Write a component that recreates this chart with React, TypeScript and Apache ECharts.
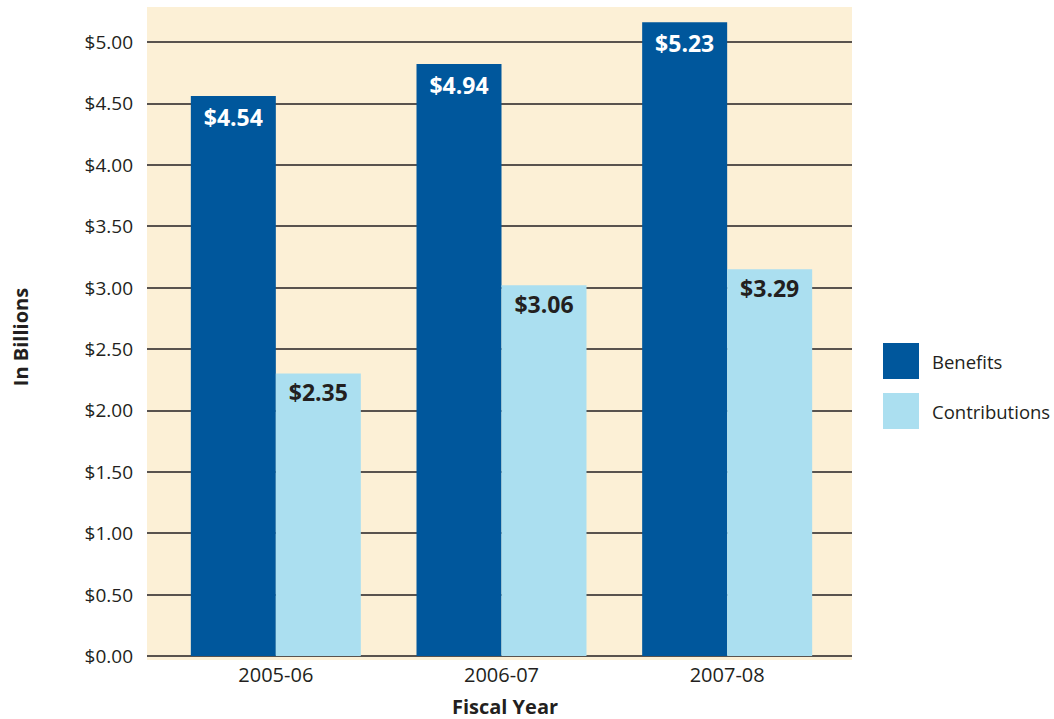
import React, { useEffect, useRef } from "react";
import * as echarts from "echarts";

const categories = ["2005-06", "2006-07", "2007-08"];
const benefits = [4.56, 4.82, 5.16];
const contributions = [2.3, 3.02, 3.15];
const benefitLabels = ["$4.54", "$4.94", "$5.23"];
const contributionLabels = ["$2.35", "$3.06", "$3.29"];
const seriesNames = ["Benefits", "Contributions"];
const yAxisTitle = "In Billions";
const xAxisTitle = "Fiscal Year";

const FONT = "'Open Sans', 'Noto Sans', sans-serif";
const DARK = "#231f20";
const BLUE = "#00579c";
const LIGHT = "#abdff0";

export default function App() {
  const ref = useRef<HTMLDivElement>(null);
  useEffect(() => {
    if (!ref.current) return;
    const chart = echarts.init(ref.current, undefined, { renderer: "svg" });
    chart.setOption({
      animation: false,
      textStyle: { fontFamily: FONT },
      graphic: [
        {
          type: "rect",
          z: -10,
          shape: { x: 147, y: 7, width: 705, height: 653 },
          style: { fill: "#fcf0d6" },
        },
        {
          type: "text",
          x: 20,
          y: 337,
          rotation: Math.PI / 2,
          style: {
            text: yAxisTitle,
            fontSize: 20,
            fontWeight: "bold",
            fill: DARK,
            fontFamily: FONT,
            align: "center",
            verticalAlign: "middle",
          },
        },
        {
          type: "text",
          x: 505,
          y: 706,
          style: {
            text: xAxisTitle,
            fontSize: 20,
            fontWeight: "bold",
            fill: DARK,
            fontFamily: FONT,
            align: "center",
            verticalAlign: "middle",
          },
        },
      ],
      legend: {
        orient: "vertical",
        left: 878,
        top: 338,
        itemWidth: 36,
        itemHeight: 36,
        itemGap: 14,
        icon: "rect",
        data: seriesNames,
        textStyle: { fontSize: 18.5, color: DARK, fontFamily: FONT, padding: [0, 0, 0, 8] },
      },
      grid: [
        { left: 147, right: 202, top: 42, bottom: 63, outerBoundsMode: "none", containLabel: false },
        { left: 163, right: 214, top: 42, bottom: 63, outerBoundsMode: "none", containLabel: false },
      ],
      xAxis: [
        { gridIndex: 0, type: "value", show: false, min: 0, max: 1 },
        {
          gridIndex: 1,
          type: "category",
          data: categories,
          axisLine: { show: false },
          axisTick: { show: false },
          axisLabel: { fontSize: 20, color: DARK, margin: 8, fontFamily: FONT },
        },
      ],
      yAxis: [
        {
          gridIndex: 0,
          type: "value",
          min: 0,
          max: 5,
          interval: 0.5,
          axisLine: { show: false },
          axisTick: { show: false },
          splitLine: { show: true, lineStyle: { color: DARK, width: 1.5 } },
          axisLabel: {
            fontSize: 19,
            color: DARK,
            margin: 14,
            fontFamily: FONT,
            formatter: (v: number) => "$" + v.toFixed(2),
          },
        },
        { gridIndex: 1, type: "value", min: 0, max: 5, show: false },
      ],
      series: [
        {
          name: seriesNames[0],
          type: "bar",
          xAxisIndex: 1,
          yAxisIndex: 1,
          data: benefits,
          barWidth: 85,
          barGap: "0%",
          clip: false,
          itemStyle: { color: BLUE },
          label: {
            show: true,
            position: "insideTop",
            distance: 9,
            color: "#ffffff",
            fontSize: 23,
            fontWeight: "bold",
            fontFamily: FONT,
            formatter: (p: any) => benefitLabels[p.dataIndex],
          },
        },
        {
          name: seriesNames[1],
          type: "bar",
          xAxisIndex: 1,
          yAxisIndex: 1,
          data: contributions,
          barWidth: 85,
          barGap: "0%",
          clip: false,
          itemStyle: { color: LIGHT },
          label: {
            show: true,
            position: "insideTop",
            distance: 7,
            color: DARK,
            fontSize: 23,
            fontWeight: "bold",
            fontFamily: FONT,
            formatter: (p: any) => contributionLabels[p.dataIndex],
          },
        },
      ],
    });
    return () => chart.dispose();
  }, []);
  return (
    <div
      ref={ref}
      style={{ position: "fixed", left: 0, top: 0, width: 1054, height: 719, background: "#ffffff" }}
    />
  );
}
